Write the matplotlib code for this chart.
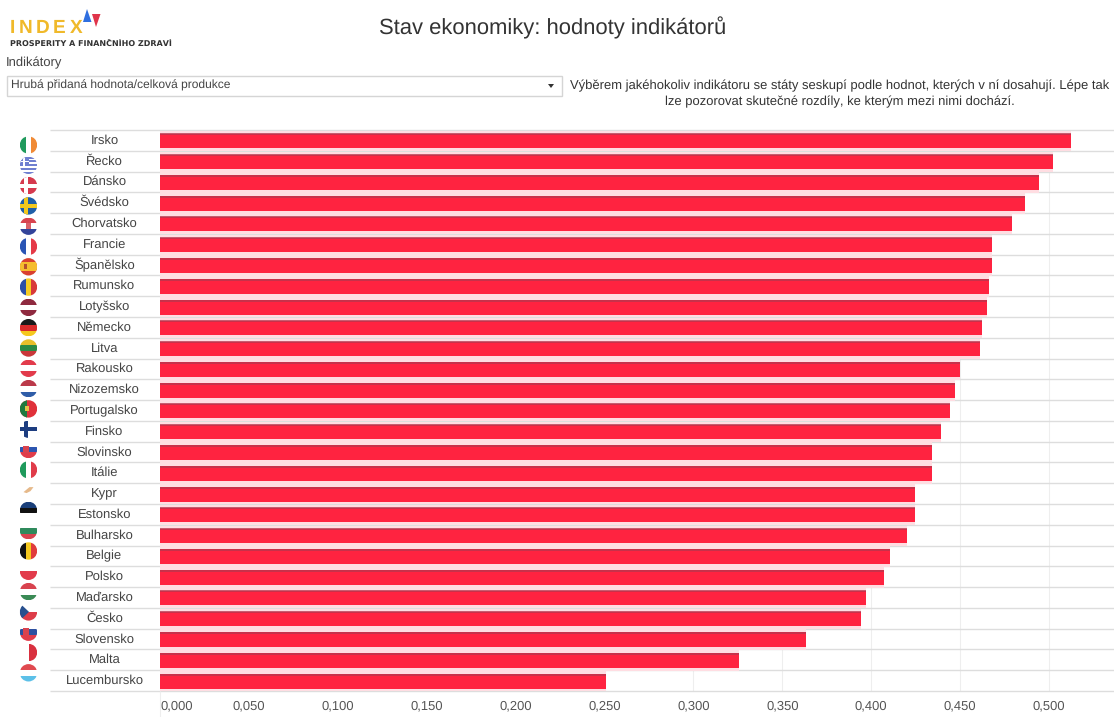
import matplotlib
matplotlib.use('Agg')
import matplotlib.pyplot as plt
from matplotlib.patches import Circle, Rectangle, Polygon

plt.rcParams['font.family'] = ['Liberation Sans', 'DejaVu Sans']
plt.rcParams['text.hinting'] = 'no_hinting'
plt.rcParams['text.hinting_factor'] = 1

countries = ['Irsko', 'Řecko', 'Dánsko', 'Švédsko', 'Chorvatsko', 'Francie', 'Španělsko',
             'Rumunsko', 'Lotyšsko', 'Německo', 'Litva', 'Rakousko', 'Nizozemsko',
             'Portugalsko', 'Finsko', 'Slovinsko', 'Itálie', 'Kypr', 'Estonsko',
             'Bulharsko', 'Belgie', 'Polsko', 'Maďarsko', 'Česko', 'Slovensko',
             'Malta', 'Lucembursko']
values = [0.5122, 0.5024, 0.4944, 0.4863, 0.4790, 0.4678, 0.4680, 0.4660, 0.4650,
          0.4625, 0.4610, 0.4500, 0.4470, 0.4445, 0.4390, 0.4340, 0.4340, 0.4245,
          0.4245, 0.4200, 0.4105, 0.4070, 0.3970, 0.3940, 0.3635, 0.3255, 0.2508]
ticks = [0.0, 0.05, 0.10, 0.15, 0.20, 0.25, 0.30, 0.35, 0.40, 0.45, 0.50]
tick_labels = ['0,000', '0,050', '0,100', '0,150', '0,200', '0,250', '0,300',
               '0,350', '0,400', '0,450', '0,500']

RED = '#ff2340'
W, H = 1114, 717

fig = plt.figure(figsize=(W / 100, H / 100), dpi=100)
ax = fig.add_axes([160 / W, 1 - 691 / H, 954 / W, 561 / H])
rows = list(range(len(countries)))
bar_y = [r + 0.03 for r in rows]

# row separators run under the country names as well
edges = [r - 0.5 for r in rows] + [len(rows) - 0.5]
ax.hlines(edges, -110 / 954, 1, transform=ax.get_yaxis_transform(), color='#dddddd',
          lw=1, clip_on=False, zorder=1)

# pale halo, bar body and the darker top edge
ax.barh(bar_y, values, height=0.98, color='#ffdde2', zorder=2)
ax.barh(bar_y, values, height=0.7, color=RED, zorder=3)
ax.hlines([y - 0.32 for y in bar_y], 0, values, color='#b8364e', lw=1.1, zorder=4)

ax.set_xlim(0, 954 / 1778)
ax.set_ylim(len(countries) - 0.5, -0.5)
ax.set_xticks(ticks)
ax.set_xticklabels(tick_labels, fontsize=9.5, color='#555555')
ax.get_xticklabels()[0].set_ha('left')
ax.set_yticks(rows)
ax.set_yticklabels([])
ax.tick_params(axis='x', length=0, pad=6.5)
ax.tick_params(axis='y', length=0)
ax.grid(axis='x', color='#eeeeee', lw=0.8, zorder=0)
ax.set_axisbelow(True)
for s in ax.spines.values():
    s.set_visible(False)
ax.vlines(0, len(rows) - 0.5, len(rows) + 0.75, color='#eeeeee', lw=0.8, clip_on=False)

# country names centred in the column left of the bars
for r, name in zip(rows, countries):
    ax.text(-55.5 / 954, r, name, transform=ax.get_yaxis_transform(), fontsize=9.5,
            color='#444444', ha='center', va='center')

# page furniture and flags in pixel coordinates
page = fig.add_axes([0, 0, 1, 1], facecolor='none')
page.set_xlim(0, W)
page.set_ylim(H, 0)
page.axis('off')


def rect(clip, x, y, w, h, c):
    p = Rectangle((x, y), w, h, fc=c, ec='none')
    page.add_patch(p)
    p.set_clip_path(clip)


def poly(clip, pts, c):
    p = Polygon(pts, fc=c, ec='none')
    page.add_patch(p)
    p.set_clip_path(clip)


def flag(cx, cy, kind, colors, r=8.7):
    clip = Circle((cx, cy), r, transform=page.transData)
    d = 2 * r
    x0, y0 = cx - r, cy - r
    if kind == 'h':
        for i, c in enumerate(colors):
            rect(clip, x0, y0 + i * d / len(colors), d, d / len(colors), c)
    elif kind == 'v':
        for i, c in enumerate(colors):
            rect(clip, x0 + i * d / len(colors), y0, d / len(colors), d, c)
    elif kind == 'cross':
        bg, cross = colors
        rect(clip, x0, y0, d, d, bg)
        rect(clip, x0, cy - 2, d, 4, cross)
        rect(clip, cx - 5, y0, 4, d, cross)
    elif kind == 'greece':
        for i in range(9):
            rect(clip, x0, y0 + i * d / 9, d, d / 9, colors[i % 2])
        rect(clip, x0, y0, 9, 9.5, colors[0])
        rect(clip, x0, y0 + 3.9, 9, 1.8, colors[1])
        rect(clip, x0 + 3.6, y0, 1.8, 9.5, colors[1])
    elif kind == 'croatia':
        for i, c in enumerate(colors):
            rect(clip, x0, y0 + i * d / 3, d, d / 3, c)
        rect(clip, cx - 2.5, cy - 3, 5, 6, '#d9606a')
    elif kind == 'spain':
        rect(clip, x0, y0, d, d, colors[0])
        rect(clip, x0, cy - r / 2, d, r, colors[1])
        rect(clip, cx - 5, cy - 2.5, 3.5, 5, '#b5502c')
    elif kind == 'portugal':
        rect(clip, x0, y0, d, d, colors[1])
        rect(clip, x0, y0, d * 0.4, d, colors[0])
        rect(clip, cx - 4, cy - 2.5, 4.5, 5, '#e3c34a')
    elif kind == 'slovak':
        for i, c in enumerate(colors):
            rect(clip, x0, y0 + i * d / 3, d, d / 3, c)
        rect(clip, cx - 6, cy - 4, 6, 7, '#d8434f')
    elif kind == 'czech':
        rect(clip, x0, y0, d, r, colors[0])
        rect(clip, x0, cy, d, r, colors[1])
        poly(clip, [(x0, y0), (cx + 0.5, cy), (x0, y0 + d)], colors[2])
    elif kind == 'cyprus':
        rect(clip, x0, y0, d, d, colors[0])
        poly(clip, [(cx - 5, cy + 2), (cx + 1, cy - 3), (cx + 5, cy - 3), (cx + 2, cy + 1), (cx - 2, cy + 3)], colors[1])


flags = [('v', ['#1f9a5c', '#ffffff', '#f08a35']),
         ('greece', ['#6f7fd0', '#ffffff']),
         ('cross', ['#d63a4e', '#ffffff']),
         ('cross', ['#1f5fa8', '#f2c81e']),
         ('croatia', ['#d8434f', '#ffffff', '#33449a']),
         ('v', ['#2a55b5', '#ffffff', '#e53a48']),
         ('spain', ['#d9402f', '#f5bd2e']),
         ('v', ['#2b4fa8', '#f5cc25', '#d83a3a']),
         ('h', ['#8f2a3f', '#ffffff', '#8f2a3f']),
         ('h', ['#1a1a1a', '#d92a2a', '#f5c81e']),
         ('h', ['#e8bf2a', '#2c8a45', '#c9373a']),
         ('h', ['#e23b4b', '#ffffff', '#e23b4b']),
         ('h', ['#bb3a4a', '#ffffff', '#2f5da8']),
         ('portugal', ['#1f7a3e', '#e0313a']),
         ('cross', ['#ffffff', '#1d3d80']),
         ('slovak', ['#ffffff', '#2d55b0', '#e03c4a']),
         ('v', ['#1f9a5c', '#ffffff', '#e03c4a']),
         ('cyprus', ['#ffffff', '#e6b98a']),
         ('h', ['#1a3f7a', '#111111', '#ffffff']),
         ('h', ['#ffffff', '#2f8a5c', '#d8434f']),
         ('v', ['#111111', '#f5c81e', '#e03c3c']),
         ('h', ['#ffffff', '#e23b4b']),
         ('h', ['#d8434f', '#ffffff', '#3a8a55']),
         ('czech', ['#ffffff', '#dd3c48', '#28508f']),
         ('slovak', ['#ffffff', '#2d50a0', '#e03c4a']),
         ('v', ['#ffffff', '#d9303f']),
         ('h', ['#e04a50', '#ffffff', '#5cc0e8'])]

for i, (kind, colors) in enumerate(flags):
    flag(28.5, 145 + i * 20.3, kind, colors)

# logo
for letter, lx in zip('INDEX', [10, 19, 36, 53, 70]):
    page.text(lx, 28.5, letter, fontsize=13.5, fontweight='bold', color='#f0b92a', va='center')
page.add_patch(Polygon([(83, 22), (91.5, 22), (87, 9)], fc='#2f6fe0', ec='none'))
page.add_patch(Polygon([(92, 14), (100.5, 14), (96, 27)], fc='#e0344a', ec='none'))
page.text(10, 44.5, 'PROSPERITY A FINANČNÍHO ZDRAVÍ', fontsize=5.95, fontweight='bold',
          color='#333333', va='center', family='DejaVu Sans')

page.text(553, 28, 'Stav ekonomiky: hodnoty indikátorů', fontsize=15.7, color='#333333',
          ha='center', va='center')
page.text(6, 63, 'Indikátory', fontsize=9.4, color='#444444', va='center')
page.add_patch(Rectangle((6.5, 75.5), 555, 20, fc='white', ec='#d5d5d5', lw=1))
page.text(11, 85.5, 'Hrubá přidaná hodnota/celková produkce', fontsize=8.6, color='#444444', va='center')
page.add_patch(Polygon([(548, 84), (554, 84), (551, 88)], fc='#333333', ec='none'))
page.text(840, 86, 'Výběrem jakéhokoliv indikátoru se státy seskupí podle hodnot, kterých v ní dosahují. Lépe tak',
          fontsize=9.6, color='#333333', ha='center', va='center')
page.text(840, 102, 'lze pozorovat skutečné rozdíly, ke kterým mezi nimi dochází.',
          fontsize=9.6, color='#333333', ha='center', va='center')

fig.savefig('out.png', dpi=100)
